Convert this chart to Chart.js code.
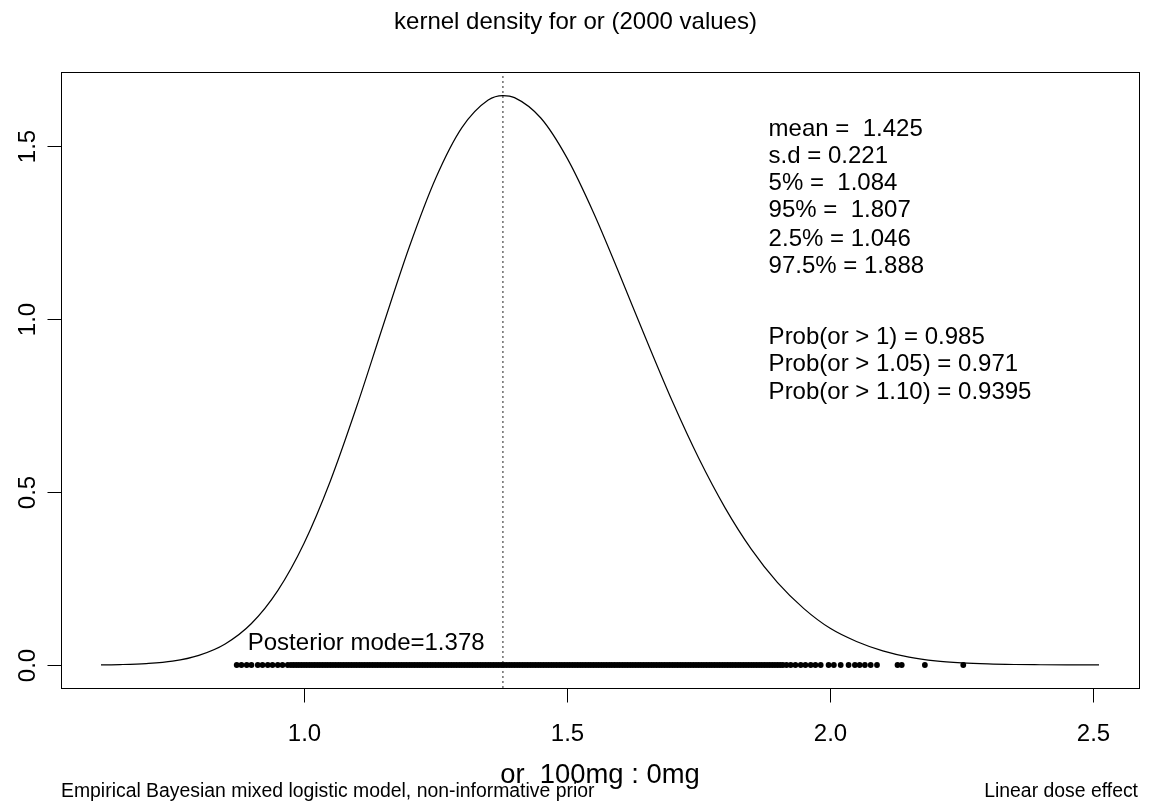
<!DOCTYPE html>
<html lang="en">
<head>
<meta charset="UTF-8">
<title>kernel density for or (2000 values)</title>
<script src="https://cdn.jsdelivr.net/npm/chart.js"></script>
<style>
  html, body { margin: 0; padding: 0; background: #fff; }
  #wrap { width: 1151px; height: 805px; position: relative; }
</style>
</head>
<body>
<div id="wrap"><canvas id="densityCanvas"></canvas></div>
<script>
// kernel density of the odds ratio
const densX = [0.614, 0.65, 0.70, 0.75, 0.80, 0.85, 0.90, 0.95, 1.00, 1.05, 1.10, 1.15, 1.20, 1.25,
  1.30, 1.35, 1.378, 1.40, 1.45, 1.50, 1.55, 1.60, 1.65, 1.70, 1.75, 1.80, 1.85, 1.90, 1.95,
  2.00, 2.05, 2.10, 2.15, 2.20, 2.25, 2.30, 2.35, 2.40, 2.45, 2.511];
const densY = [0.0004, 0.0012, 0.004, 0.011, 0.028, 0.061, 0.120, 0.215, 0.352, 0.532, 0.747, 0.980, 1.208, 1.406,
  1.553, 1.633, 1.646, 1.640, 1.581, 1.465, 1.308, 1.128, 0.942, 0.762, 0.598, 0.455, 0.335, 0.238, 0.163,
  0.106, 0.068, 0.041, 0.023, 0.012, 0.0062, 0.0030, 0.0014, 0.0007, 0.0003, 0.0001];

// posterior draws shown along y = 0 (rug)
const rugX = [0.872, 0.881, 0.891, 0.900, 0.912, 0.921, 0.931, 0.940, 0.950, 0.959, 0.969, 0.975,
  0.980, 0.985, 0.990, 0.995, 1.000, 1.005, 1.010, 1.015, 1.020, 1.025,
  1.030, 1.035, 1.040, 1.045, 1.050, 1.055, 1.060, 1.065, 1.070, 1.075,
  1.080, 1.085, 1.090, 1.095, 1.100, 1.105, 1.110, 1.115, 1.120, 1.125,
  1.130, 1.135, 1.140, 1.145, 1.150, 1.155, 1.160, 1.165, 1.170, 1.175,
  1.180, 1.185, 1.190, 1.195, 1.200, 1.205, 1.210, 1.215, 1.220, 1.225,
  1.230, 1.235, 1.240, 1.245, 1.250, 1.255, 1.260, 1.265, 1.270, 1.275,
  1.280, 1.285, 1.290, 1.295, 1.300, 1.305, 1.310, 1.315, 1.320, 1.325,
  1.330, 1.335, 1.340, 1.345, 1.350, 1.355, 1.360, 1.365, 1.370, 1.375,
  1.380, 1.385, 1.390, 1.395, 1.400, 1.405, 1.410, 1.415, 1.420, 1.425,
  1.430, 1.435, 1.440, 1.445, 1.450, 1.455, 1.460, 1.465, 1.470, 1.475,
  1.480, 1.485, 1.490, 1.495, 1.500, 1.505, 1.510, 1.515, 1.520, 1.525,
  1.530, 1.535, 1.540, 1.545, 1.550, 1.555, 1.560, 1.565, 1.570, 1.575,
  1.580, 1.585, 1.590, 1.595, 1.600, 1.605, 1.610, 1.615, 1.620, 1.625,
  1.630, 1.635, 1.640, 1.645, 1.650, 1.655, 1.660, 1.665, 1.670, 1.675,
  1.680, 1.685, 1.690, 1.695, 1.700, 1.705, 1.710, 1.715, 1.720, 1.725,
  1.730, 1.735, 1.740, 1.745, 1.750, 1.755, 1.760, 1.765, 1.770, 1.775,
  1.780, 1.785, 1.790, 1.795, 1.800, 1.805, 1.810, 1.815, 1.820, 1.825,
  1.830, 1.835, 1.840, 1.845, 1.850, 1.855, 1.860, 1.865, 1.870, 1.875,
  1.880, 1.885, 1.890, 1.895, 1.900, 1.905, 1.910,
  1.917, 1.925, 1.934, 1.944, 1.953, 1.963, 1.972, 1.982, 1.997, 2.007, 2.020, 2.035,
  2.047, 2.056, 2.066, 2.077, 2.089, 2.128, 2.136, 2.180, 2.253];

const postMode = 1.378;

const xTicks = [1.0, 1.5, 2.0, 2.5];
const yTicks = [0.0, 0.5, 1.0, 1.5];
const xRange = [0.538, 2.587];
const yRange = [-0.0665, 1.714];

const statLines = ['mean =  1.425', 's.d = 0.221', '5% =  1.084', '95% =  1.807', '2.5% = 1.046',
  '97.5% = 1.888', 'Prob(or > 1) = 0.985', 'Prob(or > 1.05) = 0.971', 'Prob(or > 1.10) = 0.9395'];
const statYs = [1.549, 1.471, 1.393, 1.314, 1.231, 1.153, 0.948, 0.868, 0.789];
const statX = 1.883;

const titleText = 'kernel density for or (2000 values)';
const xLabel = 'or  100mg : 0mg';
const footLeft = 'Empirical Bayesian mixed logistic model, non-informative prior';
const footRight = 'Linear dose effect';
const modeLabel = 'Posterior mode=' + postMode;

const FONT = '"Liberation Sans", Arial, Helvetica, sans-serif';

// draws the R style frame, axes and texts using the chart scales
const rDecor = {
  id: 'rDecor',
  afterDraw(chart) {
    const ctx = chart.ctx;
    const a = chart.chartArea;
    const xs = chart.scales.x, ys = chart.scales.y;
    ctx.save();
    ctx.strokeStyle = '#000';
    ctx.fillStyle = '#000';
    ctx.lineWidth = 1;
    ctx.strokeRect(a.left + 0.5, a.top + 0.5, a.right - a.left, a.bottom - a.top);

    // x axis
    ctx.font = '24px ' + FONT;
    ctx.textAlign = 'center';
    ctx.textBaseline = 'alphabetic';
    xTicks.forEach(v => {
      const px = Math.round(xs.getPixelForValue(v)) + 0.5;
      ctx.beginPath();
      ctx.moveTo(px, a.bottom + 0.5);
      ctx.lineTo(px, a.bottom + 14.5);
      ctx.stroke();
      ctx.fillText(v.toFixed(1), px, 741);
    });

    // y axis (rotated labels)
    yTicks.forEach(v => {
      const py = Math.round(ys.getPixelForValue(v)) + 0.5;
      ctx.beginPath();
      ctx.moveTo(a.left - 13.5, py);
      ctx.lineTo(a.left + 0.5, py);
      ctx.stroke();
      ctx.save();
      ctx.translate(35, py);
      ctx.rotate(-Math.PI / 2);
      ctx.fillText(v.toFixed(1), 0, 0);
      ctx.restore();
    });

    // title, centred on the figure
    ctx.font = '24px ' + FONT;
    ctx.fillText(titleText, chart.width / 2, 29);

    // axis label and footers
    ctx.font = '27.4px ' + FONT;
    ctx.fillText(xLabel, (a.left + a.right) / 2, 783);
    ctx.font = '19.4px ' + FONT;
    ctx.textAlign = 'left';
    ctx.fillText(footLeft, 61, 797);
    ctx.textAlign = 'right';
    ctx.fillText(footRight, 1138, 797);

    // summary statistics
    ctx.font = '24px ' + FONT;
    ctx.textAlign = 'left';
    ctx.textBaseline = 'middle';
    statLines.forEach((t, i) => {
      ctx.fillText(t, xs.getPixelForValue(statX), ys.getPixelForValue(statYs[i]));
    });
    ctx.fillText(modeLabel, xs.getPixelForValue(0.893), ys.getPixelForValue(0.063));
    ctx.restore();
  }
};

const dados = {
  datasets: [
    {
      label: 'density',
      data: densX.map((x, i) => ({ x: x, y: densY[i] })),
      showLine: true,
      borderColor: '#000',
      borderWidth: 1.2,
      pointRadius: 0,
      cubicInterpolationMode: 'monotone'
    },
    {
      label: 'draws',
      data: rugX.map(x => ({ x: x, y: 0 })),
      showLine: false,
      backgroundColor: '#000',
      borderColor: '#000',
      borderWidth: 0,
      pointRadius: 2.9
    },
    {
      label: 'mode',
      data: [{ x: postMode, y: yRange[0] }, { x: postMode, y: yRange[1] }],
      showLine: true,
      borderColor: '#222',
      borderWidth: 1,
      borderDash: [2, 3],
      pointRadius: 0
    }
  ]
};

const config = {
  type: 'scatter',
  data: dados,
  options: {
    responsive: true,
    maintainAspectRatio: false,
    animation: false,
    devicePixelRatio: 1,
    layout: { padding: { left: 61, right: 12, top: 72, bottom: 117 } },
    plugins: { legend: { display: false }, tooltip: { enabled: false } },
    scales: {
      x: { type: 'linear', min: xRange[0], max: xRange[1], display: false },
      y: { type: 'linear', min: yRange[0], max: yRange[1], display: false }
    }
  },
  plugins: [rDecor]
};

new Chart(document.getElementById('densityCanvas'), config);
</script>
</body>
</html>
